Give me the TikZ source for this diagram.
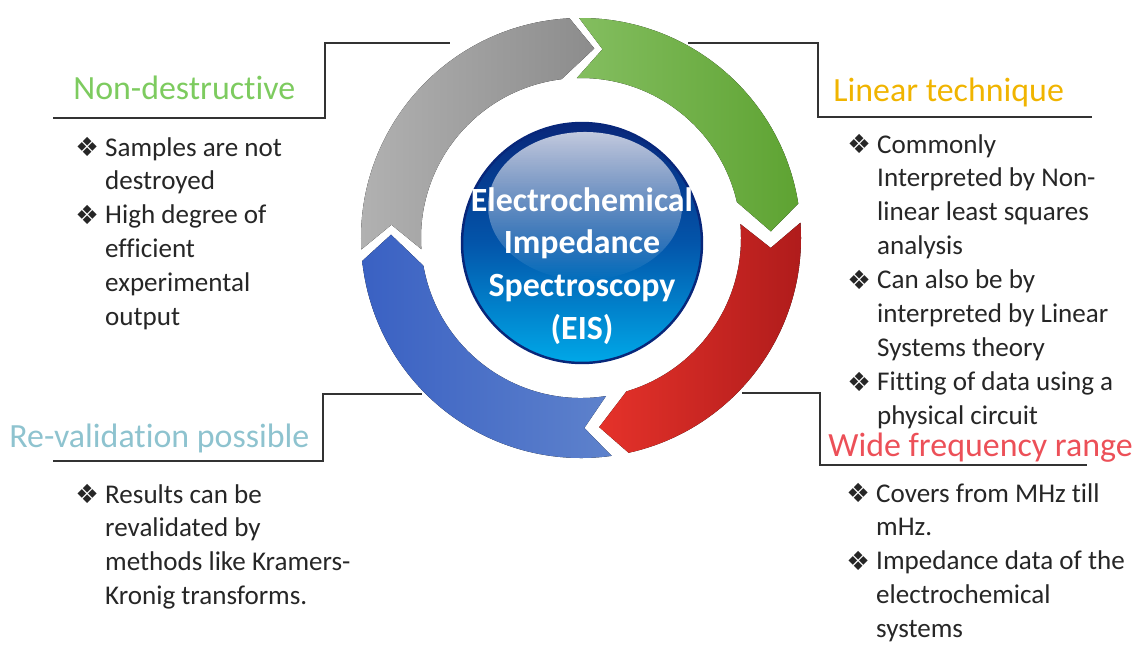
\documentclass[tikz,border=0pt]{standalone}
\usepackage{fontspec}
\setmainfont{Carlito}[Ligatures=NoCommon]
\newfontfamily\dingfont{DejaVu Sans}
\usetikzlibrary{positioning,fadings}
\definecolor{grayL}{HTML}{B2B2B2}
\definecolor{grayR}{HTML}{8C8C8C}
\definecolor{greenL}{HTML}{84BE60}
\definecolor{greenR}{HTML}{5EA332}
\definecolor{redL}{HTML}{E5322A}
\definecolor{redR}{HTML}{AE1B1B}
\definecolor{blueL}{HTML}{3A61C3}
\definecolor{blueR}{HTML}{5E82CC}
\definecolor{ballT}{HTML}{08277A}
\definecolor{ballM}{HTML}{0355AA}
\definecolor{ballB}{HTML}{00A8E8}
\definecolor{hNd}{HTML}{7DCB5F}
\definecolor{hLin}{HTML}{F0B400}
\definecolor{hWfr}{HTML}{EC5058}
\definecolor{hRev}{HTML}{8EC3CF}
\tikzset{
  head/.style ={font=\fontsize{19.3}{23}\selectfont, inner sep=0pt, anchor=base west},
  body/.style ={font=\fontsize{15.4}{19.3}\selectfont, inner sep=0pt, anchor=base west, text=black!85},
  brk/.style  ={draw=black!80, line width=0.9pt},
  ball/.style ={circle, minimum size=4.8cm, inner sep=0pt, draw=ballT, line width=1.4pt,
                top color=ballT, bottom color=ballB, middle color=ballM},
  eisl/.style ={font=\bfseries\fontsize{19.3}{24.4}\selectfont, text=white, align=center, inner sep=0pt},
}
\newcommand{\bul}{\makebox[17pt][l]{\raisebox{-0.4pt}{\dingfont\fontsize{15}{15}\selectfont ❖}}}

\begin{document}
\begin{tikzpicture}[x=0.02cm, y=0.02cm]
  \useasboundingbox (0,0) rectangle (1143,-646);

  % cycle ring
  \begin{scope}[shift={(581,-238)}]
    \foreach \a/\b/\cl/\cr in {183/93/grayL/grayR, 90.5/9/greenL/greenR, 4/-77.5/redL/redR, -82/-174/blueL/blueR}{
      \fill[left color=\cl, right color=\cr]
        (\a:220) arc[start angle=\a, end angle=\b, radius=220] -- (\b-7:190) -- (\b+4:160)
        arc[start angle=\b+4, end angle=\a+1, radius=160] -- (\a-7:190) -- cycle;
    }
  \end{scope}

  \node[ball] (eis) at (582,-243) {};
  \fill[white, fill opacity=0.75, path fading=south] (585,-206) ellipse [x radius=97, y radius=74];
  \node[eisl] (eist) at (582,-266) {Electrochemical\\Impedance\\Spectroscopy\\(EIS)};

  % headings
  \node[head, text=hNd]  (hnd)  at (73,-99)   {Non-destructive};
  \node[head, text=hLin] (hlin) at (833,-101) {Linear technique};
  \node[head, text=hWfr] (hwfr) at (828,-456) {Wide frequency range};
  \node[head, text=hRev] (hrev) at (9,-447)   {Re-validation possible};

  % bullet texts
  \node[body] (bnd) at (75,-156) {\begin{tabular}[t]{@{}l@{}l@{}}
    \bul & Samples are not\\ & destroyed\\ \bul & High degree of\\ & efficient\\ & experimental\\ & output\end{tabular}};
  \node[body] (blin) at (847,-153) {\begin{tabular}[t]{@{}l@{}l@{}}
    \bul & Commonly\\ & Interpreted by Non-\\ & linear least squares\\ & analysis\\
    \bul & Can also be by\\ & interpreted by Linear\\ & Systems theory\\
    \bul & Fitting of data using a\\ & physical circuit\end{tabular}};
  \node[body] (bwfr) at (846,-502) {\begin{tabular}[t]{@{}l@{}l@{}}
    \bul & Covers from MHz till\\ & mHz.\\ \bul & Impedance data of the\\ & electrochemical\\ & systems\end{tabular}};
  \node[body] (brev) at (75,-503) {\begin{tabular}[t]{@{}l@{}l@{}}
    \bul & Results can be\\ & revalidated by\\ & methods like Kramers-\\ & Kronig transforms.\end{tabular}};

  % brackets
  \coordinate (nd-a) at (53,-118);   \coordinate (nd-k) at (325,-43);  \coordinate (nd-b) at (450,-43);
  \coordinate (lin-a) at (688,-43);  \coordinate (lin-k) at (818,-117); \coordinate (lin-b) at (1092,-117);
  \coordinate (rev-a) at (422,-394); \coordinate (rev-k) at (323,-461); \coordinate (rev-b) at (53,-461);
  \coordinate (wfr-a) at (742,-393); \coordinate (wfr-k) at (820,-465); \coordinate (wfr-b) at (1087,-465);
  \draw[brk] (nd-a) -| (nd-k) -- (nd-b);
  \draw[brk] (lin-a) -| (lin-k) -- (lin-b);
  \draw[brk] (rev-a) -| (rev-k) -- (rev-b);
  \draw[brk] (wfr-a) -| (wfr-k) -- (wfr-b);
\end{tikzpicture}
\end{document}
